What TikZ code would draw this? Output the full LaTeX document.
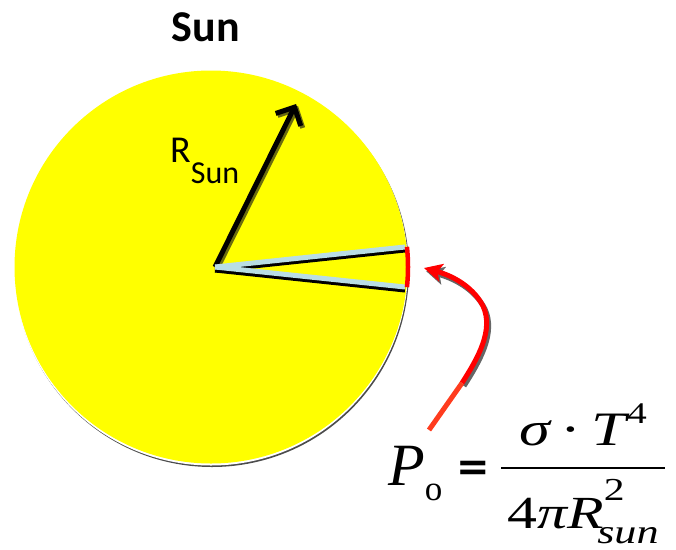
\documentclass[tikz,border=0pt]{standalone}
\usepackage{fontspec}
\setmainfont{Liberation Serif}
\newfontfamily\calibri{Carlito}
\newfontfamily\heavysans{DejaVu Sans}
\usetikzlibrary{arrows.meta}

\definecolor{sunyellow}{RGB}{255,255,0}
\definecolor{wedgeblue}{RGB}{185,222,228}
\definecolor{shadowolive}{RGB}{70,70,20}
\definecolor{tailred}{RGB}{255,60,30}

\begin{document}
\begin{tikzpicture}[x=1pt, y=-1pt,
  lbl/.style     = {inner sep=0pt, anchor=base},
  radarr/.style  = {line width=5pt, -{Straight Barb[length=14pt,width=28pt]}},
  wedge/.style   = {line width=5pt, wedgeblue},
  wedgesh/.style = {line width=5pt, black},
  arcred/.style  = {line width=4.5pt, red},
  ptr/.style     = {line width=5pt, -{Stealth[length=18pt,width=18pt,inset=4pt]}},
]
\useasboundingbox (0,0) rectangle (676,549);

% the sun with its shadow rim
\fill[black!70] (212,270) circle (197pt);
\fill[white] (211,268.5) circle (197pt);
\node[circle, fill=sunyellow, minimum size=393pt, inner sep=0pt] (sun) at (211,267) {};

\coordinate (c) at (215,267);
\coordinate (rtip) at (296,104);
\coordinate (wu) at (405,247);
\coordinate (wl) at (405,287);

\node[lbl] (title) at (206,41) {\calibri\bfseries\fontsize{44}{44}\selectfont Sun};
\node[lbl, anchor=base west] (rlabel) at (170,162)
  {\calibri\fontsize{38}{38}\selectfont R\raisebox{-21pt}{\fontsize{32}{32}\selectfont Sun}};

% radius arrow
\draw[radarr, shadowolive, opacity=0.8] ([shift={(2,2)}]c) -- ([shift={(2,2)}]rtip);
\draw[radarr, black] (c) -- (rtip);

% wedge
\draw[wedgesh] ([shift={(0,3)}]c) -- ([shift={(0,3)}]wu);
\draw[wedgesh] ([shift={(0,3)}]c) -- ([shift={(0,3)}]wl);
\draw[wedge] (c) -- (wu);
\draw[wedge] (c) -- (wl);
\draw[arcred] ([shift={(-6:193)}]c) arc[start angle=-6, end angle=6, radius=193];

% formula
\node[lbl, anchor=base west] (Po) at (388,485)
  {\fontsize{60}{60}\selectfont\itshape P\kern0pt\upshape\raisebox{-15pt}{\fontsize{35}{35}\selectfont o}};
\node[inner sep=0pt] (eq) at (473,471) {\heavysans\bfseries\fontsize{40}{40}\selectfont =};
\node[lbl] (num) at (583,445)
  {\scalebox{1.3}[1]{\fontsize{48}{48}\selectfont\itshape σ\,\upshape·\,\itshape T\kern1pt\upshape\raisebox{22pt}{\fontsize{30}{30}\selectfont 4}}};
\node[lbl] (den) at (583,528)
  {\scalebox{1.3}[1]{\fontsize{46}{46}\selectfont 4\itshape πR\rlap{\upshape\raisebox{28pt}{\fontsize{32}{32}\selectfont 2}}\kern-5pt\raisebox{-15pt}{\fontsize{34}{34}\selectfont sun}}};
\draw[line width=2.5pt] (501,468) -- (665,468);

% pointer to the arc
\coordinate (tail) at (429,430);
\coordinate (bend) at (462,383);
\coordinate (tip) at (424,268);
\draw[ptr, black!60] ([shift={(2,3)}]bend) .. controls (480,361) and (496,333) .. (485,309)
  .. controls (474,288) and (452,278) .. ([shift={(2,3)}]tip);
\draw[ptr, red] (bend) .. controls (478,358) and (494,330) .. (483,306)
  .. controls (472,285) and (450,275) .. (tip);
\draw[line width=5pt, tailred] (tail) -- (bend);

\end{tikzpicture}
\end{document}
